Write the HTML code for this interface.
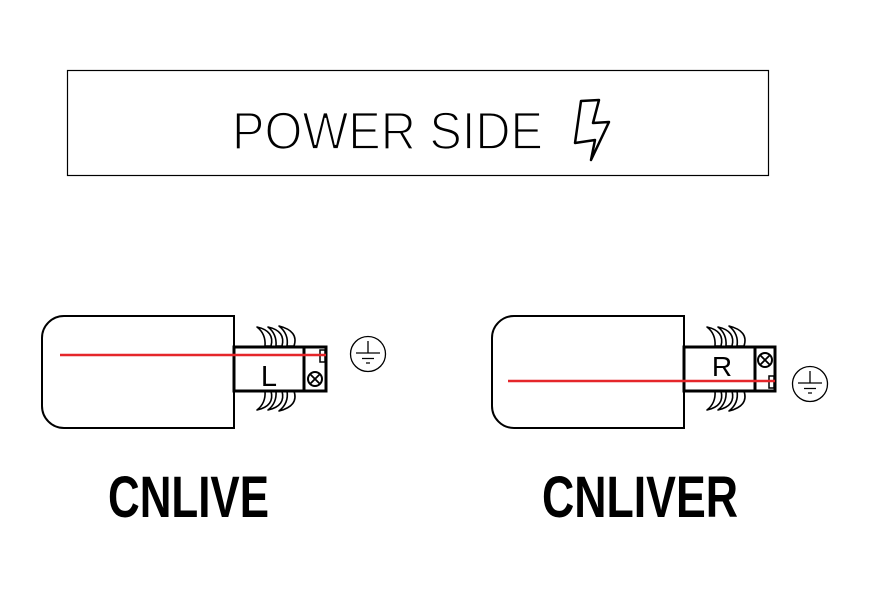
<!DOCTYPE html>
<html>
<head>
<meta charset="utf-8">
<style>
html,body{margin:0;padding:0;background:#fff;}
svg{display:block;}
</style>
</head>
<body>
<svg width="890" height="596" viewBox="0 0 890 596" xmlns="http://www.w3.org/2000/svg">
  <rect x="0" y="0" width="890" height="596" fill="#fff"/>
  <!-- Header -->
  <rect x="67.5" y="70.5" width="701" height="105" fill="none" stroke="#000" stroke-width="1.2"/>
  <text x="232" y="149" font-family="Liberation Sans, sans-serif" font-size="53" fill="#000" stroke="#fff" stroke-width="1.8" textLength="311" lengthAdjust="spacingAndGlyphs">POWER SIDE</text>
  <path d="M581,101 L599,100 L593,123 L609,122 L591,160 L595,140 L575,143 Z" fill="none" stroke="#000" stroke-width="2.5" stroke-linejoin="round"/>

  <!-- Left connector -->
  <g fill="#fff" stroke="#000" stroke-width="1.6" stroke-linejoin="round">
    <path d="M257,327 Q275,331 271,346 L265,346 Q266,334 257,327 Z"/>
    <path d="M268,327 Q286,331 282,346 L276,346 Q277,334 268,327 Z"/>
    <path d="M279,326 Q299,331 294,346 L287,346 Q289,334 279,326 Z"/>
    <path d="M257,410 Q275,406 271,391 L265,391 Q266,403 257,410 Z"/>
    <path d="M268,410 Q286,406 282,391 L276,391 Q277,403 268,410 Z"/>
    <path d="M279,411 Q299,406 294,391 L287,391 Q289,403 279,411 Z"/>
  </g>
  <path d="M234,316 H64 A22,22 0 0 0 42,338 V406 A22,22 0 0 0 64,428 H234 Z" fill="#fff" stroke="#000" stroke-width="2"/>
  <rect x="234" y="347" width="70" height="44" fill="#fff" stroke="#000" stroke-width="3"/>
  <rect x="304" y="347" width="22" height="44" fill="#fff" stroke="#000" stroke-width="3"/>
  <rect x="320" y="350" width="5" height="12" fill="#fff" stroke="#000" stroke-width="1.5"/>
  <circle cx="315" cy="379" r="7" fill="#fff" stroke="#000" stroke-width="2"/>
  <path d="M310,374 L320,384 M320,374 L310,384" stroke="#000" stroke-width="1.8"/>
  <line x1="60" y1="355" x2="326" y2="355" stroke="#e5262a" stroke-width="2.6"/>
  <text x="269" y="386" text-anchor="middle" font-family="Liberation Sans, sans-serif" font-size="29" fill="#000">L</text>
  <circle cx="368" cy="354" r="17.5" fill="none" stroke="#000" stroke-width="1.3"/>
  <path d="M368,341 V353 M356,353 H380 M362,358.5 H374 M366,363 H370" stroke="#000" stroke-width="1.3" fill="none"/>

  <!-- Right connector -->
  <g fill="#fff" stroke="#000" stroke-width="1.6" stroke-linejoin="round">
    <path d="M707,327 Q725,331 721,346 L715,346 Q716,334 707,327 Z"/>
    <path d="M718,327 Q736,331 732,346 L726,346 Q727,334 718,327 Z"/>
    <path d="M729,326 Q749,331 744,346 L737,346 Q739,334 729,326 Z"/>
    <path d="M707,410 Q725,406 721,391 L715,391 Q716,403 707,410 Z"/>
    <path d="M718,410 Q736,406 732,391 L726,391 Q727,403 718,410 Z"/>
    <path d="M729,411 Q749,406 744,391 L737,391 Q739,403 729,411 Z"/>
  </g>
  <path d="M684,316 H514 A22,22 0 0 0 492,338 V406 A22,22 0 0 0 514,428 H684 Z" fill="#fff" stroke="#000" stroke-width="2"/>
  <rect x="684" y="347" width="71" height="44" fill="#fff" stroke="#000" stroke-width="3"/>
  <rect x="755" y="347" width="20" height="44" fill="#fff" stroke="#000" stroke-width="3"/>
  <rect x="769" y="376" width="5" height="12" fill="#fff" stroke="#000" stroke-width="1.5"/>
  <circle cx="765" cy="360" r="7" fill="#fff" stroke="#000" stroke-width="2"/>
  <path d="M760,355 L770,365 M770,355 L760,365" stroke="#000" stroke-width="1.8"/>
  <line x1="508" y1="381" x2="775" y2="381" stroke="#e5262a" stroke-width="2.6"/>
  <text x="722" y="376" text-anchor="middle" font-family="Liberation Sans, sans-serif" font-size="28" fill="#000">R</text>
  <circle cx="810" cy="384" r="17.5" fill="none" stroke="#000" stroke-width="1.3"/>
  <path d="M810,371 V383 M798,383 H822 M804,388.5 H816 M808,393 H812" stroke="#000" stroke-width="1.3" fill="none"/>

  <!-- Labels -->
  <text x="108" y="517" font-family="Liberation Sans, sans-serif" font-weight="bold" font-size="58" fill="#000" textLength="161" lengthAdjust="spacingAndGlyphs">CNLIVE</text>
  <text x="542" y="517" font-family="Liberation Sans, sans-serif" font-weight="bold" font-size="58" fill="#000" textLength="196" lengthAdjust="spacingAndGlyphs">CNLIVER</text>
</svg>
</body>
</html>
